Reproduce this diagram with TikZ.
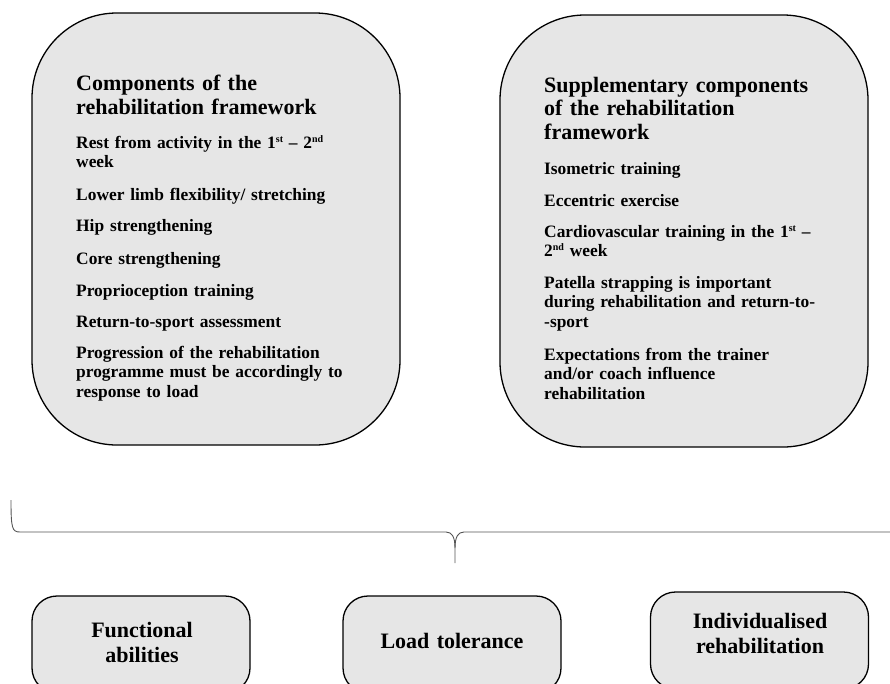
\documentclass[tikz,border=0pt]{standalone}
\usepackage{fontspec}
\setmainfont{Liberation Serif}
\definecolor{boxgray}{HTML}{E6E6E6}
\definecolor{bracegray}{HTML}{555555}
\newcommand{\supscr}[1]{\raisebox{0.34em}{\fontsize{10}{10}\selectfont #1}}
\begin{document}
\begin{tikzpicture}[x=1pt,y=-1pt,
  bigbox/.style={draw=black, line width=1.3pt, fill=boxgray, rounded corners=85pt,
    minimum width=368pt, minimum height=432pt, inner sep=0pt},
  smallbox/.style={draw=black, line width=1.3pt, fill=boxgray, rounded corners=25pt,
    minimum width=218pt, minimum height=97pt, inner sep=0pt},
  boxtext/.style={anchor=base, inner sep=0pt, text width=210pt, align=center,
    font=\bfseries\fontsize{22}{25}\selectfont},
  ttl/.style={anchor=base west, inner sep=0pt, text width=330pt, align=left,
    font=\bfseries\fontsize{22}{23.5}\selectfont},
  itm/.style={anchor=base west, inner sep=0pt, text width=330pt, align=left,
    font=\bfseries\fontsize{17.4}{19.8}\selectfont},
  bracelin/.style={draw=bracegray, line width=0.9pt}]
\useasboundingbox (0,0) rectangle (890,683);

% big boxes
\node[bigbox] (left) at (216,229) {};
\node[bigbox] (right) at (684,231) {};

% left box texts
\node[ttl] (lt) at (76,90.7) {Components of the\\rehabilitation framework};
\node[itm] (l1) at (76,148) {Rest from activity in the 1\supscr{st} – 2\supscr{nd}\\week};
\node[itm] (l2) at (76,200) {Lower limb flexibility/ stretching};
\node[itm] (l3) at (76,231) {Hip strengthening};
\node[itm] (l4) at (76,264) {Core strengthening};
\node[itm] (l5) at (76,296) {Proprioception training};
\node[itm] (l6) at (76,327) {Return-to-sport assessment};
\node[itm] (l7) at (76,358) {Progression of the rehabilitation\\programme must be accordingly to\\response to load};

% right box texts
\node[ttl] (rt) at (544,92.3) {Supplementary components\\of the rehabilitation\\framework};
\node[itm] (r1) at (544,174) {Isometric training};
\node[itm] (r2) at (544,206) {Eccentric exercise};
\node[itm] (r3) at (544,237) {Cardiovascular training in the 1\supscr{st} –\\2\supscr{nd} week};
\node[itm] (r4) at (544,288) {Patella strapping is important\\during rehabilitation and return-to-\\-sport};
\node[itm] (r5) at (544,360) {Expectations from the trainer\\and/or coach influence\\rehabilitation};

% brace
\coordinate (bl) at (11,500);
\coordinate (br) at (900,532);
\coordinate (bt) at (455,563);
\draw[bracelin] (bl) .. controls (11,528) and (12,532) .. (20,532) -- (446,532)
  .. controls (452,532) and (455,537) .. (455,548) -- (bt);
\draw[bracelin] (br) -- (464,532) .. controls (458,532) and (455,537) .. (455,548);

% bottom boxes
\node[smallbox] (fa) at (141,644.5) {};
\node[smallbox] (lo) at (452,644.5) {};
\node[smallbox] (ir) at (759.5,640.5) {};
\node[boxtext] (fat) at (142,637) {Functional\\abilities};
\node[boxtext] (lot) at (452,648) {Load tolerance};
\node[boxtext] (irt) at (760,628) {Individualised\\rehabilitation};
\end{tikzpicture}
\end{document}
